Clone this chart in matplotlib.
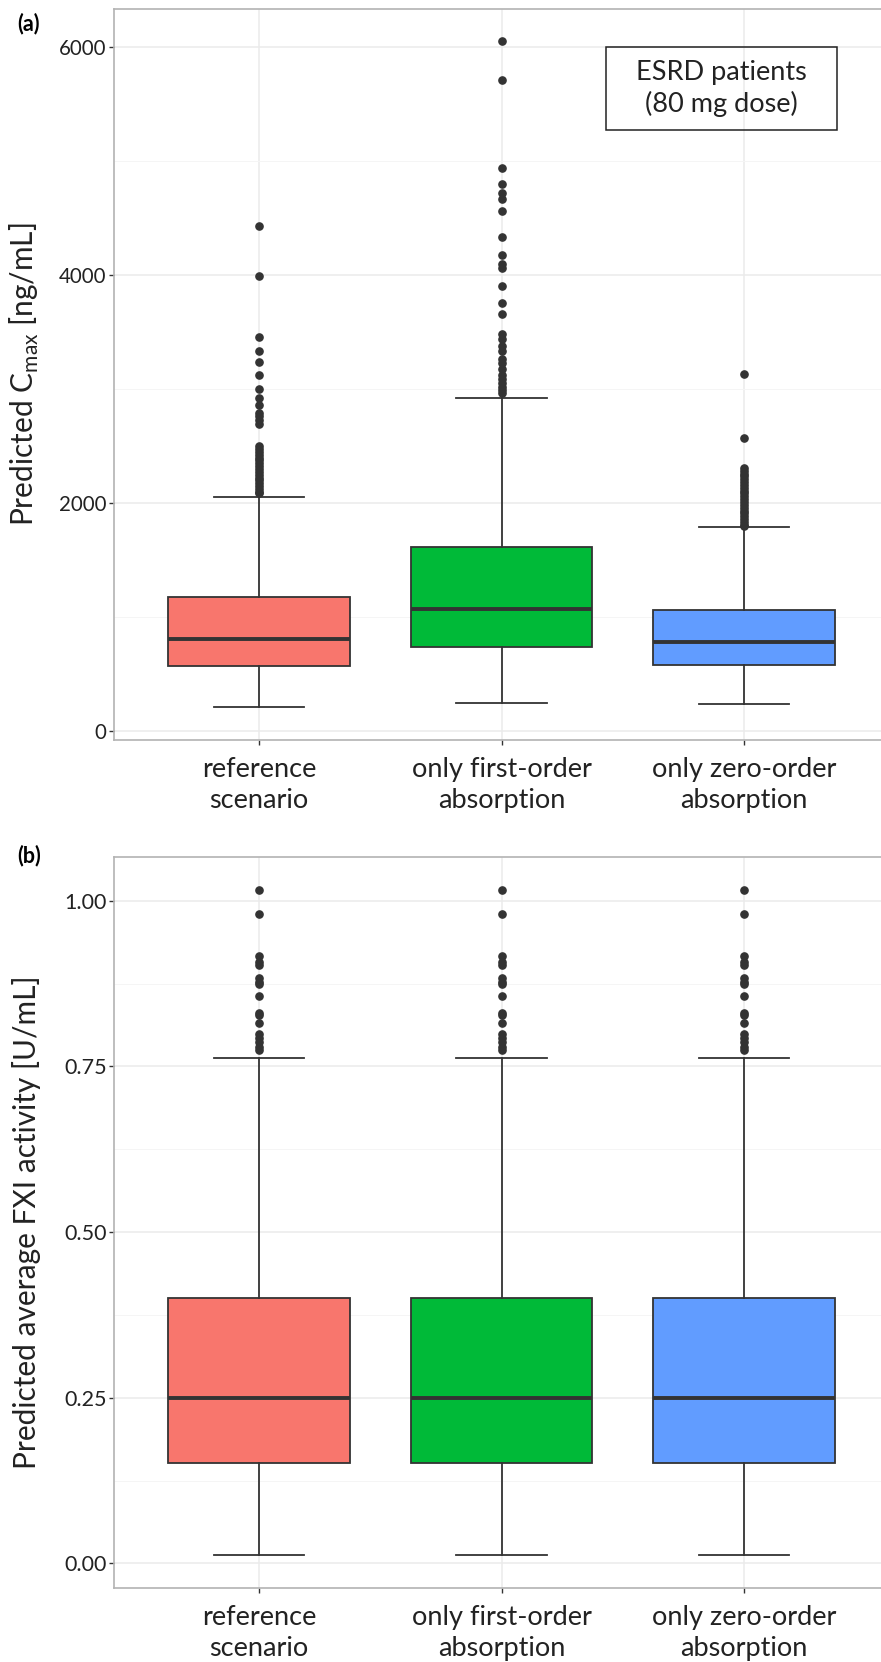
import matplotlib
matplotlib.use("Agg")
import matplotlib.pyplot as plt
from matplotlib.patches import Rectangle

plt.rcParams['font.family'] = ['Lato', 'DejaVu Sans']

# Kategorien und Farben
categories = ["reference\nscenario", "only first-order\nabsorption", "only zero-order\nabsorption"]
box_colors = ["#F8766D", "#00BA38", "#619CFF"]

# Panel (a): Cmax [ng/mL]
cmax_q1 = [576, 743, 585]
cmax_med = [813, 1076, 787]
cmax_q3 = [1179, 1614, 1067]
cmax_whislo = [217, 249, 240]
cmax_whishi = [2050, 2918, 1789]
cmax_out_ref = [4429, 3990, 3459, 3333, 3240, 3122, 2997, 2918, 2859, 2792, 2760, 2725, 2690,
                2500, 2475, 2450, 2425, 2400, 2375, 2350, 2325, 2300, 2275, 2250, 2225, 2200,
                2175, 2150, 2125, 2100, 2085]
cmax_out_first = [6051, 5707, 4935, 4801, 4722, 4663, 4561, 4333, 4172, 4093, 4064, 3903, 3757,
                  3661, 3485, 3435, 3376, 3333, 3266, 3231, 3172, 3120, 3084, 3055, 3020, 2995, 2968]
cmax_out_zero = [3134, 2573, 2310, 2285, 2260, 2235, 2210, 2185, 2160, 2135, 2110, 2085, 2060,
                 2035, 2010, 1985, 1960, 1935, 1910, 1885, 1860, 1835, 1810, 1798]

# Panel (b): mittlere FXI-Aktivitaet [U/mL]
fxi_q1 = [0.152, 0.152, 0.152]
fxi_med = [0.249, 0.249, 0.249]
fxi_q3 = [0.400, 0.400, 0.400]
fxi_whislo = [0.013, 0.013, 0.013]
fxi_whishi = [0.763, 0.763, 0.763]
fxi_out = [1.016, 0.980, 0.917, 0.907, 0.903, 0.883, 0.878, 0.875, 0.857, 0.830, 0.827,
           0.816, 0.799, 0.793, 0.787, 0.780, 0.775]

W, H = 881, 1662
fig = plt.figure(figsize=(W / 100, H / 100), dpi=100)

EDGE = "#333333"
SPINE = "#B3B3B3"


def make_stats(q1, med, q3, lo, hi, outs):
    return [dict(q1=q1[i], med=med[i], q3=q3[i], whislo=lo[i], whishi=hi[i],
                 fliers=outs[i]) for i in range(len(q1))]


def draw_panel(ax, stats, ylim, yticks, yminor, ylabel, ytickfmt, ytick_fs):
    ax.set_axisbelow(True)
    bp = ax.bxp(stats, positions=[1, 2, 3], widths=0.75, patch_artist=True,
                capwidths=0.375,
                boxprops=dict(edgecolor=EDGE, linewidth=1.3),
                medianprops=dict(color=EDGE, linewidth=2.8),
                whiskerprops=dict(color=EDGE, linewidth=1.3),
                capprops=dict(color=EDGE, linewidth=1.3),
                flierprops=dict(marker='o', markerfacecolor=EDGE, markeredgecolor=EDGE,
                                markersize=5.2, linestyle='none'))
    for patch, c in zip(bp['boxes'], box_colors):
        patch.set_facecolor(c)
    ax.set_xlim(0.4, 3.6)
    ax.set_ylim(*ylim)
    ax.set_yticks(yticks)
    ax.set_yticklabels([ytickfmt(v) for v in yticks], fontsize=ytick_fs, color="#222222")
    ax.set_yticks(yminor, minor=True)
    ax.set_xticks([1, 2, 3])
    ax.set_xticklabels(categories, fontsize=19.5, color="#222222", linespacing=1.3)
    ax.grid(True, which='major', color="#EBEBEB", linewidth=1.1)
    ax.grid(True, which='minor', axis='y', color="#F5F5F5", linewidth=0.7)
    ax.tick_params(axis='both', which='major', length=3.5, width=1.0, color="#333333", pad=1.5)
    ax.tick_params(axis='x', pad=9)
    ax.tick_params(which='minor', length=0)
    for s in ax.spines.values():
        s.set_color(SPINE)
        s.set_linewidth(1.2)
    ax.set_ylabel(ylabel, fontsize=21.5, color="#222222")
    ax.yaxis.set_label_coords(-0.093, 0.5)


# Panel (a)
ax1 = fig.add_axes([113.5 / W, 1 - 740 / H, 776 / W, 731 / H])
stats_a = make_stats(cmax_q1, cmax_med, cmax_q3, cmax_whislo, cmax_whishi,
                     [cmax_out_ref, cmax_out_first, cmax_out_zero])
draw_panel(ax1, stats_a, (-75, 6330), [0, 2000, 4000, 6000], [1000, 3000, 5000],
           r"Predicted C$_{\mathregular{max}}$ [ng/mL]", lambda v: f"{v:d}", 14.8)

# Textfeld
fig.patches.append(Rectangle((606 / W, 1 - 130 / H), 231 / W, 83 / H, transform=fig.transFigure,
                             fill=False, edgecolor="#222222", linewidth=1.1, zorder=5))
fig.text(721.5 / W, 1 - 88.5 / H, "ESRD patients\n(80 mg dose)", ha='center', va='center',
         fontsize=19.5, color="#222222", linespacing=1.25)

# Panel (b)
ax2 = fig.add_axes([113.5 / W, 1 - 1588 / H, 776 / W, 731 / H])
stats_b = make_stats(fxi_q1, fxi_med, fxi_q3, fxi_whislo, fxi_whishi,
                     [fxi_out, fxi_out, fxi_out])
draw_panel(ax2, stats_b, (-0.037, 1.066), [0.0, 0.25, 0.5, 0.75, 1.0],
           [0.125, 0.375, 0.625, 0.875],
           "Predicted average FXI activity [U/mL]", lambda v: f"{v:.2f}", 15.5)

# Panelbeschriftungen
fig.text(17 / W, 1 - 24 / H, "(a)", fontsize=15.5, fontweight='bold', va='center', ha='left')
fig.text(17 / W, 1 - 856 / H, "(b)", fontsize=15.5, fontweight='bold', va='center', ha='left')

fig.savefig("out.png", dpi=100)
